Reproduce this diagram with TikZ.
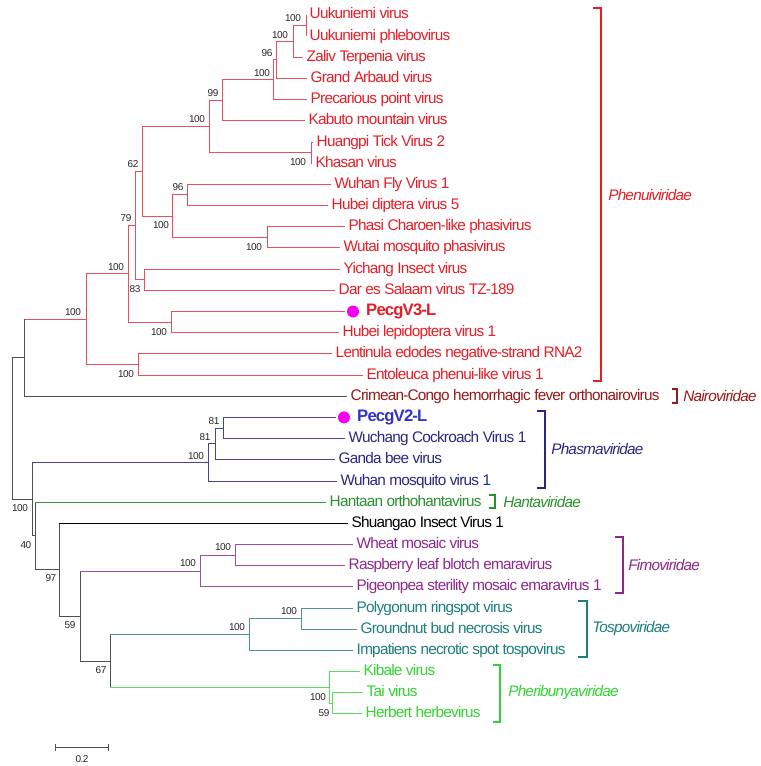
\documentclass[tikz,border=0pt]{standalone}
\usepackage{fontspec}
\setmainfont{Liberation Sans}[LetterSpace=-5]
\usetikzlibrary{calc}
\definecolor{redT}{RGB}{228,30,38}
\definecolor{redL}{RGB}{228,80,92}
\definecolor{grayL}{RGB}{80,80,80}
\definecolor{nairo}{RGB}{150,24,24}
\definecolor{navyT}{RGB}{40,40,130}
\definecolor{navyL}{RGB}{70,70,150}
\definecolor{blueB}{RGB}{50,50,200}
\definecolor{hantaT}{RGB}{40,145,45}
\definecolor{hantaL}{RGB}{60,150,60}
\definecolor{purpT}{RGB}{140,40,140}
\definecolor{purpL}{RGB}{155,80,155}
\definecolor{tealT}{RGB}{30,125,125}
\definecolor{tealL}{RGB}{80,150,150}
\definecolor{lgT}{RGB}{50,210,50}
\definecolor{lgL}{RGB}{90,222,90}
\definecolor{dotc}{RGB}{245,0,240}
\begin{document}
\begin{tikzpicture}[x=0.75pt,y=-0.75pt,
  leaf/.style={anchor=west,inner xsep=2.6pt,inner ysep=0pt,font=\fontsize{11.5}{13}\selectfont,text height=8pt,text depth=2pt},
  bold/.style={leaf,font=\fontsize{12.5}{14}\selectfont\bfseries},
  bs/.style={font=\fontsize{7.5}{8}\selectfont,inner sep=0pt,text=black!85},
  ln/.style={line width=0.75pt},
  br/.style={line width=2.2pt},
  fam/.style={anchor=west,inner sep=0pt,font=\fontsize{11.5}{13}\selectfont\itshape},
  dot/.style={circle,fill=dotc,inner sep=0pt,minimum size=9pt}]
\useasboundingbox (0,0) rectangle (760,766);
% ---------- internal nodes ----------
\coordinate (A) at (306,25.6);
\coordinate (B) at (293,41.5);
\coordinate (C) at (276,60.0);
\coordinate (D) at (273,79.9);
\coordinate (E) at (222,100.4);
\coordinate (G) at (311,152.7);
\coordinate (F) at (209,126.6);
\coordinate (J) at (187,195.0);
\coordinate (K) at (267,237.4);
\coordinate (I) at (172,216.2);
\coordinate (H) at (142,171.4);
\coordinate (M) at (144,279.8);
\coordinate (L) at (135,225.6);
\coordinate (O) at (171,322.1);
\coordinate (N) at (128,273.9);
\coordinate (P) at (138,364.5);
\coordinate (Q) at (86,319.2);
\coordinate (R) at (24,357.7);
\coordinate (T) at (223,428.0);
\coordinate (U) at (215,443.9);
\coordinate (V) at (208,462.5);
\coordinate (BB) at (235,555.1);
\coordinate (CC) at (200,571.0);
\coordinate (DD) at (301,618.6);
\coordinate (EE) at (249,634.5);
\coordinate (FF) at (332,703.4);
\coordinate (GG) at (329,687.5);
\coordinate (AA) at (110,661.0);
\coordinate (Z) at (80,616.0);
\coordinate (Y) at (59,569.7);
\coordinate (X) at (35,535.9);
\coordinate (W) at (32,499.2);
\coordinate (S) at (12,428.5);
% ---------- leaves ----------
\begin{scope}[text=redT]
\node[leaf] (l1) at (306,15.0) {Uukuniemi virus};
\node[leaf] (l2) at (306,36.2) {Uukuniemi phlebovirus};
\node[leaf] (l3) at (303,57.4) {Zaliv Terpenia virus};
\node[leaf] (l4) at (307,78.5) {Grand Arbaud virus};
\node[leaf] (l5) at (307,99.7) {Precarious point virus};
\node[leaf] (l6) at (305,120.9) {Kabuto mountain virus};
\node[leaf] (l7) at (313,142.1) {Huangpi Tick Virus 2};
\node[leaf] (l8) at (312,163.3) {Khasan virus};
\node[leaf] (l9) at (331,184.4) {Wuhan Fly Virus 1};
\node[leaf] (l10) at (328,205.6) {Hubei diptera virus 5};
\node[leaf] (l11) at (345,226.8) {Phasi Charoen-like phasivirus};
\node[leaf] (l12) at (340,248.0) {Wutai mosquito phasivirus};
\node[leaf] (l13) at (340,269.2) {Yichang Insect virus};
\node[leaf] (l14) at (335,290.3) {Dar es Salaam virus TZ-189};
\node[dot] (d15) at (353,311.5) {};
\node[bold] (l15) at (362.5,311.5) {PecgV3-L};
\node[leaf] (l16) at (339,332.7) {Hubei lepidoptera virus 1};
\node[leaf] (l17) at (332,353.9) {Lentinula edodes negative-strand RNA2};
\node[leaf] (l18) at (363,375.1) {Entoleuca phenui-like virus 1};
\end{scope}
\node[leaf,text=nairo] (l19) at (347,396.2) {Crimean-Congo hemorrhagic fever orthonairovirus};
\node[dot] (d20) at (344,417.4) {};
\node[bold,text=blueB] (l20) at (353.5,417.4) {PecgV2-L};
\begin{scope}[text=navyT]
\node[leaf] (l21) at (345,438.6) {Wuchang Cockroach Virus 1};
\node[leaf] (l22) at (335,459.8) {Ganda bee virus};
\node[leaf] (l23) at (337,481.0) {Wuhan mosquito virus 1};
\end{scope}
\node[leaf,text=hantaT] (l24) at (326,502.1) {Hantaan orthohantavirus};
\node[leaf,text=black] (l25) at (348,523.3) {Shuangao Insect Virus 1};
\begin{scope}[text=purpT]
\node[leaf] (l26) at (353,544.5) {Wheat mosaic virus};
\node[leaf] (l27) at (345,565.7) {Raspberry leaf blotch emaravirus};
\node[leaf] (l28) at (353,586.9) {Pigeonpea sterility mosaic emaravirus 1};
\end{scope}
\begin{scope}[text=tealT]
\node[leaf] (l29) at (353,608.0) {Polygonum ringspot virus};
\node[leaf] (l30) at (357,629.2) {Groundnut bud necrosis virus};
\node[leaf] (l31) at (353,650.4) {Impatiens necrotic spot tospovirus};
\end{scope}
\begin{scope}[text=lgT]
\node[leaf] (l32) at (360,671.6) {Kibale virus};
\node[leaf] (l33) at (363,692.8) {Tai virus};
\node[leaf] (l34) at (362,713.9) {Herbert herbevirus};
\end{scope}
% ---------- branches: Phenuiviridae ----------
\begin{scope}[ln,redL]
\draw (A |- l1) -- (A |- l2);
\draw (B |- A) -- (B |- l3);  \draw (B |- A) -- (A);  \draw (B |- l3) -- (l3.west);
\draw (C |- B) -- (C |- l4);  \draw (C |- B) -- (B);  \draw (C |- l4) -- (l4.west);
\draw (D |- C) -- (D |- l5);  \draw (D |- C) -- (C);  \draw (D |- l5) -- (l5.west);
\draw (E |- D) -- (E |- l6);  \draw (E |- D) -- (D);  \draw (E |- l6) -- (l6.west);
\draw (G |- l7) -- (G |- l8); \draw (G |- l7) -- (l7.west); \draw (G |- l8) -- (l8.west);
\draw (F |- E) -- (F |- G);   \draw (F |- E) -- (E);  \draw (F |- G) -- (G);
\draw (J |- l9) -- (J |- l10); \draw (J |- l9) -- (l9.west); \draw (J |- l10) -- (l10.west);
\draw (K |- l11) -- (K |- l12); \draw (K |- l11) -- (l11.west); \draw (K |- l12) -- (l12.west);
\draw (I |- J) -- (I |- K);   \draw (I |- J) -- (J);  \draw (I |- K) -- (K);
\draw (H |- F) -- (H |- I);   \draw (H |- F) -- (F);  \draw (H |- I) -- (I);
\draw (M |- l13) -- (M |- l14); \draw (M |- l13) -- (l13.west); \draw (M |- l14) -- (l14.west);
\draw (L |- H) -- (L |- M);   \draw (L |- H) -- (H);  \draw (L |- M) -- (M);
\draw (O |- d15) -- (O |- l16); \draw[shorten >=1.5pt] (O |- d15) -- (d15.west); \draw (O |- l16) -- (l16.west);
\draw (N |- L) -- (N |- O);   \draw (N |- L) -- (L);  \draw (N |- O) -- (O);
\draw (P |- l17) -- (P |- l18); \draw (P |- l17) -- (l17.west); \draw (P |- l18) -- (l18.west);
\draw (Q |- N) -- (Q |- P);   \draw (Q |- N) -- (N);  \draw (Q |- P) -- (P);
\draw (R |- Q) -- (Q);
\end{scope}
% ---------- backbone ----------
\begin{scope}[ln,grayL]
\draw (R |- Q) -- (R |- l19); \draw (R |- l19) -- (l19.west);
\draw (S |- R) -- (S |- W);   \draw (S |- R) -- (R);  \draw (S |- W) -- (W);
\draw (W |- V) -- (W |- X);   \draw (W |- X) -- (X);
\draw (X |- l24) -- (X |- Y); \draw (X |- Y) -- (Y);
\draw (Y |- l25) -- (Y |- Z); \draw[black] (Y |- l25) -- (l25.west); \draw (Y |- Z) -- (Z);
\draw (Z |- CC) -- (Z |- AA); \draw (Z |- AA) -- (AA);
\draw (AA |- EE) -- (AA |- GG);
\end{scope}
% ---------- Phasmaviridae ----------
\begin{scope}[ln,navyL]
\draw (T |- d20) -- (T |- l21); \draw[shorten >=1.5pt] (T |- d20) -- (d20.west); \draw (T |- l21) -- (l21.west);
\draw (U |- T) -- (U |- l22); \draw (U |- T) -- (T); \draw (U |- l22) -- (l22.west);
\draw (V |- U) -- (V |- l23); \draw (V |- U) -- (U); \draw (V |- l23) -- (l23.west);
\draw (W |- V) -- (V);
\end{scope}
\draw[ln,hantaL] (X |- l24) -- (l24.west);
% ---------- Fimoviridae ----------
\begin{scope}[ln,purpL]
\draw (BB |- l26) -- (BB |- l27); \draw (BB |- l26) -- (l26.west); \draw (BB |- l27) -- (l27.west);
\draw (CC |- BB) -- (CC |- l28); \draw (CC |- BB) -- (BB); \draw (CC |- l28) -- (l28.west);
\draw (Z |- CC) -- (CC);
\end{scope}
% ---------- Tospoviridae ----------
\begin{scope}[ln,tealL]
\draw (DD |- l29) -- (DD |- l30); \draw (DD |- l29) -- (l29.west); \draw (DD |- l30) -- (l30.west);
\draw (EE |- DD) -- (EE |- l31); \draw (EE |- DD) -- (DD); \draw (EE |- l31) -- (l31.west);
\draw (AA |- EE) -- (EE);
\end{scope}
% ---------- Pheribunyaviridae ----------
\begin{scope}[ln,lgL]
\draw (FF |- l33) -- (FF |- l34); \draw (FF |- l33) -- (l33.west); \draw (FF |- l34) -- (l34.west);
\draw (GG |- l32) -- (GG |- FF); \draw (GG |- l32) -- (l32.west); \draw (GG |- FF) -- (FF);
\draw (AA |- GG) -- (GG);
\end{scope}
% ---------- bootstrap values ----------
\node[bs] (bA) at (293,18) {100};
\node[bs] (bB) at (280,35) {100};
\node[bs] (bC) at (267,53) {96};
\node[bs] (bD) at (262,73) {100};
\node[bs] (bE) at (213,93) {99};
\node[bs] (bF) at (197,119) {100};
\node[bs] (bG) at (298,162) {100};
\node[bs] (bH) at (133,164) {62};
\node[bs] (bJ) at (178,187) {96};
\node[bs] (bI) at (161,225) {100};
\node[bs] (bK) at (254,247) {100};
\node[bs] (bL) at (126,218) {79};
\node[bs] (bM) at (135,289) {83};
\node[bs] (bN) at (116,267) {100};
\node[bs] (bO) at (159,332) {100};
\node[bs] (bP) at (126,374) {100};
\node[bs] (bQ) at (73,312) {100};
\node[bs] (bT) at (214,421) {81};
\node[bs] (bU) at (205,437) {81};
\node[bs] (bV) at (196,456) {100};
\node[bs] (bW) at (20,508) {100};
\node[bs] (bX) at (26,545) {40};
\node[bs] (bY) at (51,578) {97};
\node[bs] (bZ) at (70,625) {59};
\node[bs] (bAA) at (101,670) {67};
\node[bs] (bBB) at (223,547) {100};
\node[bs] (bCC) at (188,563) {100};
\node[bs] (bDD) at (289,611) {100};
\node[bs] (bEE) at (237,627) {100};
\node[bs] (bGG) at (318,697) {100};
\node[bs] (bFF) at (324,713) {59};
% ---------- family brackets ----------
\draw[br,redT] (593,8) -| (601,381) -- (593,381);
\node[fam,text=redT] (fPhen) at (608,195) {Phenuiviridae};
\draw[br,nairo] (672,389) -| (677,403) -- (672,403);
\node[fam,text=nairo] (fNai) at (683,396) {Nairoviridae};
\draw[br,navyT] (537,411) -| (545,488) -- (537,488);
\node[fam,text=navyT] (fPha) at (551,449) {Phasmaviridae};
\draw[br,hantaT] (489,495) -| (495,508) -- (489,508);
\node[fam,text=hantaT] (fHan) at (503,502) {Hantaviridae};
\draw[br,purpT] (615,537) -| (623,593) -- (615,593);
\node[fam,text=purpT] (fFim) at (628,565) {Fimoviridae};
\draw[br,tealT] (578,601) -| (587,657) -- (578,657);
\node[fam,text=tealT] (fTos) at (592,629) {Tospoviridae};
\draw[br,lgT] (493,665) -| (500,722) -- (493,722);
\node[fam,text=lgT] (fPhe) at (508,693) {Pheribunyaviridae};
% ---------- scale bar ----------
\coordinate (sb1) at (55,747);
\coordinate (sb2) at (108,747);
\draw[ln,grayL] (sb1) -- (sb2);
\draw[ln,grayL] ($(sb1)+(0,-3.5)$) -- ($(sb1)+(0,3.5)$);
\draw[ln,grayL] ($(sb2)+(0,-3.5)$) -- ($(sb2)+(0,3.5)$);
\node[bs] (sbl) at (82,759) {0.2};
\end{tikzpicture}
\end{document}
